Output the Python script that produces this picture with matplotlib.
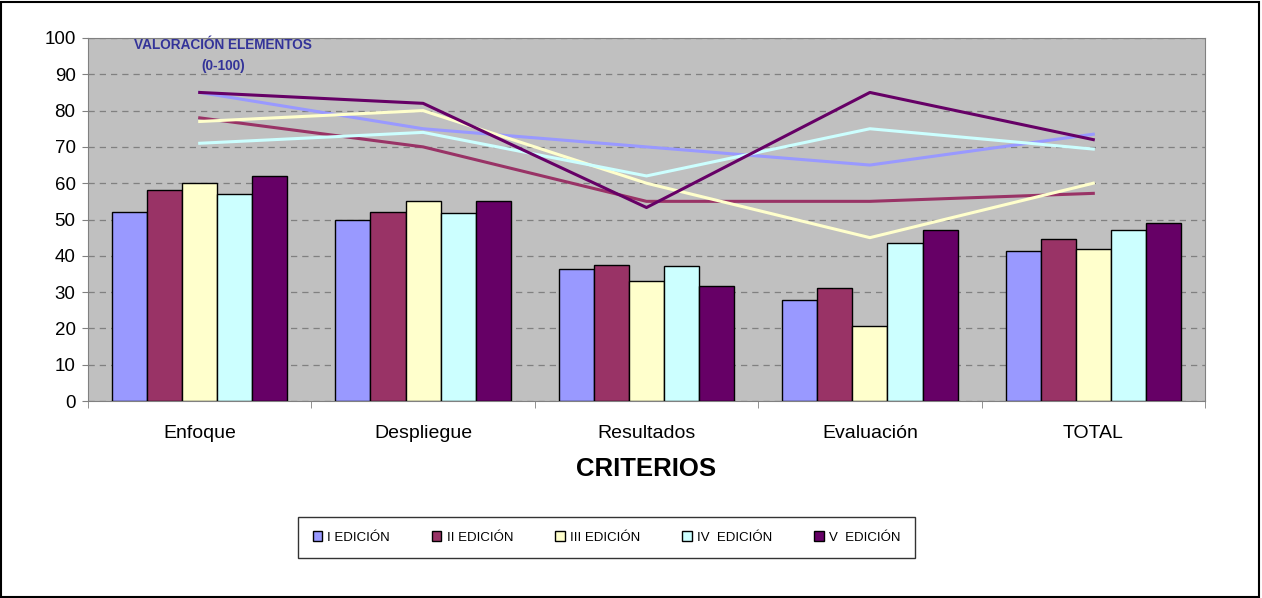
import matplotlib.pyplot as plt
from matplotlib.patches import Rectangle
import numpy as np

plt.rcParams['font.family'] = ['Liberation Sans', 'DejaVu Sans']

criterios = ['Enfoque', 'Despliegue', 'Resultados', 'Evaluación', 'TOTAL']
ediciones = ['I EDICIÓN', 'II EDICIÓN', 'III EDICIÓN', 'IV  EDICIÓN', 'V  EDICIÓN']
colores = ['#9999FF', '#993366', '#FFFFCC', '#CCFFFF', '#660066']

# bar values (criteria scores per edition)
barras_I = [52.2, 50.0, 36.4, 27.8, 41.4]
barras_II = [58.2, 52.1, 37.4, 31.0, 44.5]
barras_III = [60.0, 55.0, 33.0, 20.7, 42.0]
barras_IV = [56.9, 51.8, 37.1, 43.5, 47.0]
barras_V = [62.0, 55.0, 31.7, 47.0, 48.9]

# line values (valoración elementos 0-100)
lineas_I = [85, 75, 70, 65, 73.5]
lineas_II = [78, 70, 55, 55, 57.2]
lineas_III = [77, 80, 60, 45, 60]
lineas_IV = [71, 74, 62, 75, 69.4]
lineas_V = [85, 82, 53.3, 85, 72]

barras = [barras_I, barras_II, barras_III, barras_IV, barras_V]
lineas = [lineas_I, lineas_II, lineas_III, lineas_IV, lineas_V]

fig = plt.figure(figsize=(12.62, 5.98), dpi=100)
ax = fig.add_axes([88/1262, 1-401/598, 1117/1262, 363/598])
ax.set_facecolor('#C0C0C0')

x = np.arange(len(criterios))
w = 0.157
handles = []
for i, (vals, col) in enumerate(zip(barras, colores)):
    b = ax.bar(x + (i - 2) * w, vals, w, color=col, edgecolor='black',
               linewidth=1.0, zorder=3, label=ediciones[i])
    handles.append(b)
for vals, col in zip(lineas, colores):
    ax.plot(x, vals, color=col, linewidth=2.2, zorder=4)

ax.set_xlim(-0.5, 4.5)
ax.set_ylim(0, 100)
ax.set_yticks(range(0, 101, 10))
ax.yaxis.grid(True, linestyle=(0, (5, 4)), color='#808080', linewidth=0.9)
ax.set_axisbelow(True)
ax.tick_params(axis='y', labelsize=13.5, length=4, color='#808080', pad=5)
ax.set_xticks(x)
ax.set_xticklabels(criterios, fontsize=14)
ax.tick_params(axis='x', length=0, pad=17)
ax.set_xticks(np.arange(-0.5, 4.6, 1), minor=True)
ax.tick_params(axis='x', which='minor', length=5, color='#808080')
for s in ax.spines.values():
    s.set_color('#808080')

ax.set_xlabel('CRITERIOS', fontsize=18.5, fontweight='bold', labelpad=11)

# title of the line series, placed in pixel coords of the figure
for txt, py in [('VALORACIÓN ELEMENTOS', 45), ('(0-100)', 66)]:
    fig.text(223/1262, 1 - py/598, txt, fontsize=9.8, fontweight='bold',
             color='#333399', ha='center', va='center')

leg = fig.legend(handles=handles, loc='center', mode='expand', ncol=5,
                 bbox_to_anchor=(298/1262, 1-560/598, 617/1262, 45/598),
                 fontsize=9.5, frameon=True, fancybox=False, handlelength=0.7,
                 handleheight=0.7, handletextpad=0.4, borderaxespad=0,
                 borderpad=1.1)
leg.get_frame().set_edgecolor('black')
leg.get_frame().set_linewidth(1.0)

fig.patches.append(Rectangle((0.001, 0.002), 0.997, 0.995, transform=fig.transFigure,
                             fill=False, edgecolor='black', linewidth=1.5))

fig.savefig('out.png', dpi=100)
